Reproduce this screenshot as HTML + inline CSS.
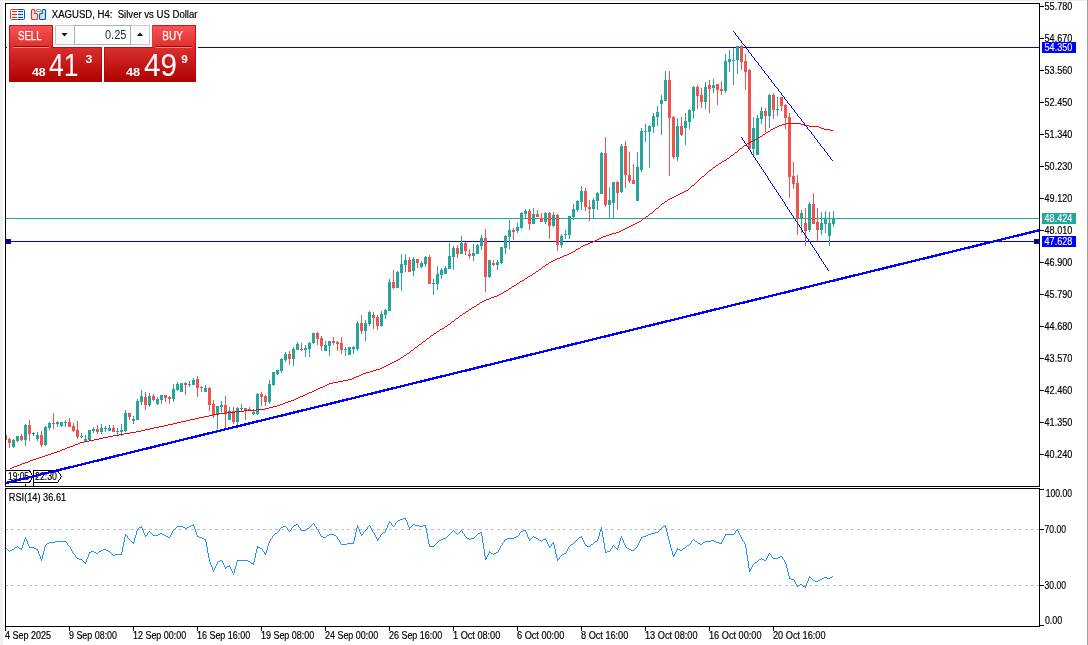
<!DOCTYPE html>
<html lang="en"><head><meta charset="utf-8"><title>XAGUSD, H4: Silver vs US Dollar</title>
<style>html,body{margin:0;padding:0;background:#fff;overflow:hidden}svg{display:block}text{font-family:"Liberation Sans",sans-serif;}.k{stroke:#000;stroke-width:0.18px}.w{stroke:#fff;stroke-width:0.12px}</style></head><body>
<svg width="1088" height="645" viewBox="0 0 1088 645">
<defs><linearGradient id="rg" x1="0" y1="25" x2="0" y2="82" gradientUnits="userSpaceOnUse"><stop offset="0" stop-color="#f95454"/><stop offset="0.38" stop-color="#dc3030"/><stop offset="1" stop-color="#ae0000"/></linearGradient><clipPath id="mc"><rect x="6" y="4" width="1033" height="482"/></clipPath></defs>
<rect x="0" y="0" width="1088" height="645" fill="#ffffff"/>
<g shape-rendering="crispEdges">
<rect x="0" y="0" width="1088" height="1" fill="#ececec"/>
<rect x="0" y="0" width="3" height="645" fill="#f0f0f0"/>
<rect x="1087" y="0" width="1" height="645" fill="#a0a0b4"/>
<g fill="#000">
<rect x="5" y="3" width="1035" height="1"/>
<rect x="5" y="3" width="1" height="484"/>
<rect x="1039" y="3" width="1" height="484"/>
<rect x="5" y="486" width="1035" height="1"/>
<rect x="5" y="488" width="1035" height="1"/>
<rect x="5" y="488" width="1" height="139"/>
<rect x="1039" y="488" width="1" height="139"/>
<rect x="5" y="626" width="1035" height="1"/>
</g>
</g>
<g clip-path="url(#mc)">
<g shape-rendering="crispEdges">
<rect x="6" y="47" width="1033" height="1" fill="#0000ff"/>
<rect x="6" y="218" width="1033" height="1" fill="#26a69a"/>
<rect x="6" y="241" width="1033" height="1" fill="#0000ff"/>
</g>
<g fill="#26a69a" shape-rendering="crispEdges">
<rect x="13" y="439" width="1" height="9"/>
<rect x="12" y="440" width="3" height="7"/>
<rect x="17" y="436" width="1" height="6"/>
<rect x="16" y="436" width="3" height="5"/>
<rect x="25" y="424" width="1" height="22"/>
<rect x="24" y="425" width="3" height="15"/>
<rect x="33" y="432" width="1" height="4"/>
<rect x="32" y="433" width="3" height="1"/>
<rect x="37" y="432" width="1" height="9"/>
<rect x="36" y="435" width="3" height="4"/>
<rect x="45" y="426" width="1" height="20"/>
<rect x="44" y="427" width="3" height="18"/>
<rect x="49" y="422" width="1" height="8"/>
<rect x="48" y="423" width="3" height="5"/>
<rect x="57" y="421" width="1" height="6"/>
<rect x="56" y="422" width="3" height="2"/>
<rect x="61" y="422" width="1" height="5"/>
<rect x="60" y="422" width="3" height="4"/>
<rect x="65" y="420" width="1" height="7"/>
<rect x="64" y="422" width="3" height="1"/>
<rect x="81" y="433" width="1" height="5"/>
<rect x="80" y="436" width="3" height="1"/>
<rect x="85" y="435" width="1" height="7"/>
<rect x="84" y="439" width="3" height="3"/>
<rect x="89" y="430" width="1" height="11"/>
<rect x="88" y="430" width="3" height="10"/>
<rect x="93" y="427" width="1" height="6"/>
<rect x="92" y="429" width="3" height="2"/>
<rect x="101" y="424" width="1" height="10"/>
<rect x="100" y="428" width="3" height="4"/>
<rect x="105" y="426" width="1" height="6"/>
<rect x="104" y="428" width="3" height="1"/>
<rect x="109" y="425" width="1" height="6"/>
<rect x="108" y="428" width="3" height="3"/>
<rect x="117" y="428" width="1" height="8"/>
<rect x="116" y="431" width="3" height="1"/>
<rect x="121" y="424" width="1" height="12"/>
<rect x="120" y="430" width="3" height="2"/>
<rect x="125" y="410" width="1" height="22"/>
<rect x="124" y="413" width="3" height="18"/>
<rect x="133" y="416" width="1" height="8"/>
<rect x="132" y="419" width="3" height="2"/>
<rect x="137" y="399" width="1" height="21"/>
<rect x="136" y="401" width="3" height="19"/>
<rect x="141" y="390" width="1" height="15"/>
<rect x="140" y="396" width="3" height="6"/>
<rect x="149" y="393" width="1" height="14"/>
<rect x="148" y="396" width="3" height="9"/>
<rect x="157" y="397" width="1" height="8"/>
<rect x="156" y="399" width="3" height="5"/>
<rect x="161" y="395" width="1" height="9"/>
<rect x="160" y="395" width="3" height="5"/>
<rect x="173" y="384" width="1" height="18"/>
<rect x="172" y="389" width="3" height="10"/>
<rect x="177" y="382" width="1" height="9"/>
<rect x="176" y="384" width="3" height="6"/>
<rect x="180" y="383" width="3" height="9"/>
<rect x="189" y="381" width="1" height="6"/>
<rect x="188" y="384" width="3" height="1"/>
<rect x="193" y="378" width="1" height="7"/>
<rect x="192" y="380" width="3" height="5"/>
<rect x="205" y="385" width="1" height="7"/>
<rect x="204" y="388" width="3" height="4"/>
<rect x="217" y="406" width="1" height="23"/>
<rect x="216" y="406" width="3" height="9"/>
<rect x="221" y="401" width="1" height="11"/>
<rect x="220" y="405" width="3" height="2"/>
<rect x="229" y="407" width="1" height="13"/>
<rect x="228" y="411" width="3" height="9"/>
<rect x="237" y="407" width="1" height="21"/>
<rect x="236" y="408" width="3" height="14"/>
<rect x="241" y="404" width="1" height="7"/>
<rect x="240" y="408" width="3" height="1"/>
<rect x="253" y="409" width="1" height="6"/>
<rect x="252" y="412" width="3" height="2"/>
<rect x="257" y="393" width="1" height="22"/>
<rect x="256" y="394" width="3" height="20"/>
<rect x="269" y="380" width="1" height="24"/>
<rect x="268" y="384" width="3" height="18"/>
<rect x="273" y="372" width="1" height="14"/>
<rect x="272" y="372" width="3" height="13"/>
<rect x="277" y="370" width="1" height="5"/>
<rect x="276" y="370" width="3" height="4"/>
<rect x="281" y="358" width="1" height="15"/>
<rect x="280" y="359" width="3" height="12"/>
<rect x="285" y="352" width="1" height="10"/>
<rect x="284" y="354" width="3" height="6"/>
<rect x="293" y="347" width="1" height="19"/>
<rect x="292" y="349" width="3" height="10"/>
<rect x="297" y="342" width="1" height="8"/>
<rect x="296" y="344" width="3" height="6"/>
<rect x="305" y="345" width="1" height="12"/>
<rect x="304" y="348" width="3" height="2"/>
<rect x="309" y="342" width="1" height="15"/>
<rect x="308" y="343" width="3" height="6"/>
<rect x="313" y="333" width="1" height="11"/>
<rect x="312" y="333" width="3" height="10"/>
<rect x="325" y="341" width="1" height="10"/>
<rect x="324" y="345" width="3" height="6"/>
<rect x="329" y="341" width="1" height="15"/>
<rect x="328" y="341" width="3" height="5"/>
<rect x="345" y="347" width="1" height="9"/>
<rect x="344" y="349" width="3" height="1"/>
<rect x="348" y="347" width="3" height="8"/>
<rect x="353" y="346" width="1" height="8"/>
<rect x="352" y="347" width="3" height="2"/>
<rect x="357" y="321" width="1" height="30"/>
<rect x="356" y="323" width="3" height="26"/>
<rect x="365" y="320" width="1" height="21"/>
<rect x="364" y="323" width="3" height="8"/>
<rect x="369" y="311" width="1" height="15"/>
<rect x="368" y="312" width="3" height="12"/>
<rect x="381" y="311" width="1" height="16"/>
<rect x="380" y="314" width="3" height="12"/>
<rect x="385" y="309" width="1" height="10"/>
<rect x="384" y="310" width="3" height="5"/>
<rect x="389" y="279" width="1" height="32"/>
<rect x="388" y="282" width="3" height="29"/>
<rect x="397" y="271" width="1" height="17"/>
<rect x="396" y="272" width="3" height="16"/>
<rect x="401" y="254" width="1" height="37"/>
<rect x="400" y="264" width="3" height="9"/>
<rect x="405" y="254" width="1" height="18"/>
<rect x="404" y="260" width="3" height="5"/>
<rect x="413" y="257" width="1" height="19"/>
<rect x="412" y="259" width="3" height="12"/>
<rect x="421" y="261" width="1" height="7"/>
<rect x="420" y="263" width="3" height="4"/>
<rect x="425" y="256" width="1" height="11"/>
<rect x="424" y="257" width="3" height="7"/>
<rect x="433" y="279" width="1" height="16"/>
<rect x="432" y="283" width="3" height="1"/>
<rect x="437" y="266" width="1" height="24"/>
<rect x="436" y="274" width="3" height="10"/>
<rect x="441" y="268" width="1" height="11"/>
<rect x="440" y="270" width="3" height="5"/>
<rect x="445" y="266" width="1" height="8"/>
<rect x="444" y="268" width="3" height="6"/>
<rect x="449" y="243" width="1" height="26"/>
<rect x="448" y="256" width="3" height="13"/>
<rect x="453" y="246" width="1" height="24"/>
<rect x="452" y="248" width="3" height="9"/>
<rect x="461" y="236" width="1" height="18"/>
<rect x="460" y="243" width="3" height="11"/>
<rect x="473" y="244" width="1" height="17"/>
<rect x="472" y="253" width="3" height="3"/>
<rect x="477" y="244" width="1" height="10"/>
<rect x="476" y="245" width="3" height="9"/>
<rect x="481" y="235" width="1" height="15"/>
<rect x="480" y="238" width="3" height="8"/>
<rect x="489" y="260" width="1" height="18"/>
<rect x="488" y="260" width="3" height="17"/>
<rect x="497" y="260" width="1" height="10"/>
<rect x="496" y="262" width="3" height="3"/>
<rect x="501" y="247" width="1" height="17"/>
<rect x="500" y="247" width="3" height="16"/>
<rect x="505" y="235" width="1" height="19"/>
<rect x="504" y="236" width="3" height="12"/>
<rect x="509" y="220" width="1" height="29"/>
<rect x="508" y="230" width="3" height="7"/>
<rect x="517" y="223" width="1" height="10"/>
<rect x="516" y="227" width="3" height="4"/>
<rect x="521" y="212" width="1" height="17"/>
<rect x="520" y="213" width="3" height="15"/>
<rect x="525" y="209" width="1" height="9"/>
<rect x="524" y="211" width="3" height="3"/>
<rect x="533" y="208" width="1" height="16"/>
<rect x="532" y="214" width="3" height="10"/>
<rect x="545" y="212" width="1" height="12"/>
<rect x="544" y="213" width="3" height="9"/>
<rect x="553" y="212" width="1" height="15"/>
<rect x="552" y="215" width="3" height="11"/>
<rect x="561" y="234" width="1" height="14"/>
<rect x="560" y="236" width="3" height="9"/>
<rect x="565" y="230" width="1" height="9"/>
<rect x="564" y="234" width="3" height="1"/>
<rect x="569" y="216" width="1" height="23"/>
<rect x="568" y="216" width="3" height="19"/>
<rect x="573" y="204" width="1" height="16"/>
<rect x="572" y="209" width="3" height="8"/>
<rect x="577" y="200" width="1" height="12"/>
<rect x="576" y="201" width="3" height="9"/>
<rect x="581" y="186" width="1" height="24"/>
<rect x="580" y="191" width="3" height="11"/>
<rect x="593" y="198" width="1" height="20"/>
<rect x="592" y="200" width="3" height="9"/>
<rect x="597" y="192" width="1" height="18"/>
<rect x="596" y="193" width="3" height="8"/>
<rect x="601" y="152" width="1" height="42"/>
<rect x="600" y="153" width="3" height="41"/>
<rect x="609" y="187" width="1" height="31"/>
<rect x="608" y="200" width="3" height="5"/>
<rect x="613" y="182" width="1" height="36"/>
<rect x="612" y="182" width="3" height="21"/>
<rect x="621" y="144" width="1" height="49"/>
<rect x="620" y="146" width="3" height="46"/>
<rect x="637" y="152" width="1" height="49"/>
<rect x="636" y="167" width="3" height="34"/>
<rect x="641" y="128" width="1" height="44"/>
<rect x="640" y="131" width="3" height="39"/>
<rect x="645" y="124" width="1" height="18"/>
<rect x="644" y="131" width="3" height="1"/>
<rect x="649" y="125" width="1" height="43"/>
<rect x="648" y="126" width="3" height="6"/>
<rect x="653" y="113" width="1" height="20"/>
<rect x="652" y="116" width="3" height="11"/>
<rect x="657" y="106" width="1" height="20"/>
<rect x="656" y="112" width="3" height="5"/>
<rect x="661" y="95" width="1" height="40"/>
<rect x="660" y="100" width="3" height="4"/>
<rect x="665" y="71" width="1" height="30"/>
<rect x="664" y="80" width="3" height="21"/>
<rect x="677" y="118" width="1" height="43"/>
<rect x="676" y="126" width="3" height="31"/>
<rect x="685" y="113" width="1" height="32"/>
<rect x="684" y="121" width="3" height="7"/>
<rect x="689" y="109" width="1" height="20"/>
<rect x="688" y="110" width="3" height="12"/>
<rect x="693" y="86" width="1" height="33"/>
<rect x="692" y="87" width="3" height="24"/>
<rect x="705" y="82" width="1" height="27"/>
<rect x="704" y="87" width="3" height="15"/>
<rect x="713" y="79" width="1" height="14"/>
<rect x="712" y="85" width="3" height="3"/>
<rect x="725" y="54" width="1" height="39"/>
<rect x="724" y="61" width="3" height="30"/>
<rect x="729" y="50" width="1" height="22"/>
<rect x="728" y="59" width="3" height="3"/>
<rect x="733" y="48" width="1" height="37"/>
<rect x="732" y="60" width="3" height="1"/>
<rect x="737" y="46" width="1" height="28"/>
<rect x="736" y="46" width="3" height="14"/>
<rect x="753" y="117" width="1" height="38"/>
<rect x="752" y="128" width="3" height="21"/>
<rect x="757" y="115" width="1" height="40"/>
<rect x="756" y="118" width="3" height="37"/>
<rect x="761" y="107" width="1" height="17"/>
<rect x="760" y="111" width="3" height="8"/>
<rect x="769" y="94" width="1" height="34"/>
<rect x="768" y="95" width="3" height="21"/>
<rect x="777" y="97" width="1" height="19"/>
<rect x="776" y="109" width="3" height="1"/>
<rect x="801" y="210" width="1" height="23"/>
<rect x="800" y="213" width="3" height="6"/>
<rect x="809" y="202" width="1" height="30"/>
<rect x="808" y="204" width="3" height="26"/>
<rect x="821" y="212" width="1" height="23"/>
<rect x="820" y="223" width="3" height="7"/>
<rect x="825" y="211" width="1" height="22"/>
<rect x="824" y="219" width="3" height="5"/>
<rect x="829" y="212" width="1" height="34"/>
<rect x="828" y="223" width="3" height="13"/>
<rect x="833" y="211" width="1" height="16"/>
<rect x="832" y="218" width="3" height="6"/>
</g>
<g fill="#ef5350" shape-rendering="crispEdges">
<rect x="4" y="435" width="3" height="5"/>
<rect x="9" y="438" width="1" height="10"/>
<rect x="8" y="439" width="3" height="4"/>
<rect x="21" y="434" width="1" height="7"/>
<rect x="20" y="436" width="3" height="4"/>
<rect x="29" y="420" width="1" height="21"/>
<rect x="28" y="425" width="3" height="9"/>
<rect x="41" y="431" width="1" height="16"/>
<rect x="40" y="435" width="3" height="10"/>
<rect x="53" y="413" width="1" height="16"/>
<rect x="52" y="423" width="3" height="1"/>
<rect x="69" y="418" width="1" height="9"/>
<rect x="68" y="422" width="3" height="5"/>
<rect x="73" y="423" width="1" height="9"/>
<rect x="72" y="426" width="3" height="5"/>
<rect x="77" y="421" width="1" height="18"/>
<rect x="76" y="430" width="3" height="7"/>
<rect x="97" y="425" width="1" height="9"/>
<rect x="96" y="429" width="3" height="3"/>
<rect x="113" y="425" width="1" height="7"/>
<rect x="112" y="428" width="3" height="4"/>
<rect x="129" y="413" width="1" height="7"/>
<rect x="128" y="413" width="3" height="4"/>
<rect x="145" y="392" width="1" height="18"/>
<rect x="144" y="397" width="3" height="8"/>
<rect x="153" y="394" width="1" height="7"/>
<rect x="152" y="396" width="3" height="4"/>
<rect x="165" y="395" width="1" height="7"/>
<rect x="164" y="395" width="3" height="3"/>
<rect x="169" y="396" width="1" height="8"/>
<rect x="168" y="397" width="3" height="2"/>
<rect x="185" y="382" width="1" height="13"/>
<rect x="184" y="383" width="3" height="2"/>
<rect x="197" y="376" width="1" height="21"/>
<rect x="196" y="379" width="3" height="9"/>
<rect x="201" y="386" width="1" height="6"/>
<rect x="200" y="387" width="3" height="1"/>
<rect x="209" y="387" width="1" height="24"/>
<rect x="208" y="388" width="3" height="17"/>
<rect x="213" y="400" width="1" height="18"/>
<rect x="212" y="404" width="3" height="11"/>
<rect x="225" y="396" width="1" height="32"/>
<rect x="224" y="405" width="3" height="9"/>
<rect x="233" y="407" width="1" height="17"/>
<rect x="232" y="411" width="3" height="11"/>
<rect x="245" y="408" width="1" height="12"/>
<rect x="244" y="408" width="3" height="2"/>
<rect x="249" y="407" width="1" height="4"/>
<rect x="248" y="409" width="3" height="1"/>
<rect x="261" y="392" width="1" height="14"/>
<rect x="260" y="394" width="3" height="3"/>
<rect x="265" y="395" width="1" height="11"/>
<rect x="264" y="396" width="3" height="6"/>
<rect x="289" y="351" width="1" height="14"/>
<rect x="288" y="354" width="3" height="5"/>
<rect x="301" y="343" width="1" height="8"/>
<rect x="300" y="349" width="3" height="1"/>
<rect x="317" y="332" width="1" height="13"/>
<rect x="316" y="333" width="3" height="6"/>
<rect x="321" y="336" width="1" height="15"/>
<rect x="320" y="338" width="3" height="8"/>
<rect x="333" y="337" width="1" height="8"/>
<rect x="332" y="341" width="3" height="2"/>
<rect x="337" y="341" width="1" height="10"/>
<rect x="336" y="342" width="3" height="2"/>
<rect x="341" y="337" width="1" height="17"/>
<rect x="340" y="343" width="3" height="7"/>
<rect x="361" y="315" width="1" height="19"/>
<rect x="360" y="323" width="3" height="8"/>
<rect x="373" y="312" width="1" height="17"/>
<rect x="372" y="315" width="3" height="3"/>
<rect x="377" y="315" width="1" height="15"/>
<rect x="376" y="317" width="3" height="9"/>
<rect x="393" y="270" width="1" height="19"/>
<rect x="392" y="282" width="3" height="6"/>
<rect x="409" y="257" width="1" height="15"/>
<rect x="408" y="260" width="3" height="12"/>
<rect x="417" y="259" width="1" height="9"/>
<rect x="416" y="259" width="3" height="4"/>
<rect x="429" y="255" width="1" height="29"/>
<rect x="428" y="257" width="3" height="27"/>
<rect x="457" y="245" width="1" height="13"/>
<rect x="456" y="248" width="3" height="6"/>
<rect x="465" y="242" width="1" height="13"/>
<rect x="464" y="243" width="3" height="8"/>
<rect x="469" y="249" width="1" height="10"/>
<rect x="468" y="254" width="3" height="2"/>
<rect x="485" y="229" width="1" height="63"/>
<rect x="484" y="238" width="3" height="39"/>
<rect x="493" y="260" width="1" height="6"/>
<rect x="492" y="263" width="3" height="2"/>
<rect x="513" y="228" width="1" height="12"/>
<rect x="512" y="230" width="3" height="2"/>
<rect x="529" y="209" width="1" height="21"/>
<rect x="528" y="211" width="3" height="13"/>
<rect x="537" y="210" width="1" height="7"/>
<rect x="536" y="214" width="3" height="3"/>
<rect x="541" y="213" width="1" height="9"/>
<rect x="540" y="218" width="3" height="4"/>
<rect x="549" y="212" width="1" height="27"/>
<rect x="548" y="213" width="3" height="13"/>
<rect x="557" y="214" width="1" height="37"/>
<rect x="556" y="215" width="3" height="30"/>
<rect x="585" y="188" width="1" height="23"/>
<rect x="584" y="191" width="3" height="16"/>
<rect x="589" y="200" width="1" height="21"/>
<rect x="588" y="207" width="3" height="2"/>
<rect x="605" y="137" width="1" height="70"/>
<rect x="604" y="153" width="3" height="52"/>
<rect x="617" y="181" width="1" height="29"/>
<rect x="616" y="182" width="3" height="11"/>
<rect x="625" y="141" width="1" height="47"/>
<rect x="624" y="146" width="3" height="29"/>
<rect x="629" y="152" width="1" height="31"/>
<rect x="628" y="175" width="3" height="6"/>
<rect x="633" y="164" width="1" height="20"/>
<rect x="632" y="180" width="3" height="4"/>
<rect x="669" y="71" width="1" height="105"/>
<rect x="668" y="80" width="3" height="38"/>
<rect x="673" y="116" width="1" height="43"/>
<rect x="672" y="117" width="3" height="40"/>
<rect x="681" y="117" width="1" height="19"/>
<rect x="680" y="126" width="3" height="9"/>
<rect x="697" y="85" width="1" height="24"/>
<rect x="696" y="87" width="3" height="9"/>
<rect x="701" y="88" width="1" height="20"/>
<rect x="700" y="95" width="3" height="7"/>
<rect x="709" y="80" width="1" height="33"/>
<rect x="708" y="85" width="3" height="4"/>
<rect x="717" y="84" width="1" height="21"/>
<rect x="716" y="84" width="3" height="6"/>
<rect x="721" y="81" width="1" height="14"/>
<rect x="720" y="89" width="3" height="2"/>
<rect x="741" y="45" width="1" height="25"/>
<rect x="740" y="46" width="3" height="16"/>
<rect x="745" y="54" width="1" height="36"/>
<rect x="744" y="61" width="3" height="11"/>
<rect x="749" y="69" width="1" height="80"/>
<rect x="748" y="70" width="3" height="79"/>
<rect x="765" y="108" width="1" height="24"/>
<rect x="764" y="111" width="3" height="5"/>
<rect x="773" y="93" width="1" height="26"/>
<rect x="772" y="95" width="3" height="15"/>
<rect x="781" y="97" width="1" height="14"/>
<rect x="780" y="97" width="3" height="9"/>
<rect x="785" y="104" width="1" height="25"/>
<rect x="784" y="105" width="3" height="13"/>
<rect x="789" y="113" width="1" height="85"/>
<rect x="788" y="117" width="3" height="60"/>
<rect x="793" y="162" width="1" height="27"/>
<rect x="792" y="176" width="3" height="8"/>
<rect x="797" y="175" width="1" height="60"/>
<rect x="796" y="183" width="3" height="36"/>
<rect x="805" y="208" width="1" height="38"/>
<rect x="804" y="223" width="3" height="8"/>
<rect x="813" y="193" width="1" height="31"/>
<rect x="812" y="204" width="3" height="20"/>
<rect x="817" y="208" width="1" height="33"/>
<rect x="816" y="222" width="3" height="8"/>
</g>
<path fill="none" stroke="#ff0000" stroke-width="1" shape-rendering="crispEdges" d="M10 468.5h2M12 467.5h2M14 466.5h3M17 465.5h3M20 464.5h2M22 463.5h3M25 462.5h3M28 461.5h2M30 460.5h3M33 459.5h3M36 458.5h3M39 457.5h3M42 456.5h3M45 455.5h3M48 454.5h3M51 453.5h3M54 452.5h3M57 451.5h3M60 450.5h2M62 449.5h3M65 448.5h2M67 447.5h3M70 446.5h3M73 445.5h2M75 444.5h3M78 443.5h2M80 442.5h4M84 441.5h5M89 440.5h5M94 439.5h5M99 438.5h4M103 437.5h5M108 436.5h5M113 435.5h6M119 434.5h5M124 433.5h6M130 432.5h6M136 431.5h5M141 430.5h4M145 429.5h5M150 428.5h4M154 427.5h5M159 426.5h5M164 425.5h4M168 424.5h5M173 423.5h4M177 422.5h4M181 421.5h5M186 420.5h4M190 419.5h5M195 418.5h4M199 417.5h5M204 416.5h5M209 415.5h4M213 414.5h6M219 413.5h8M227 412.5h8M235 411.5h9M244 410.5h12M256 409.5h9M265 408.5h4M269 407.5h4M273 406.5h4M277 405.5h3M280 404.5h3M283 403.5h2M285 402.5h3M288 401.5h3M291 400.5h3M294 399.5h2M296 398.5h2M298 397.5h2M300 396.5h3M303 395.5h2M305 394.5h2M307 393.5h2M309 392.5h3M312 391.5h2M314 390.5h2M316 389.5h2M318 388.5h2M320 387.5h3M323 386.5h2M325 385.5h2M327 384.5h2M329 383.5h4M333 382.5h5M338 381.5h5M343 380.5h5M348 379.5h4M352 378.5h2M354 377.5h2M356 376.5h3M359 375.5h2M361 374.5h2M363 373.5h3M366 372.5h4M370 371.5h3M373 370.5h3M376 369.5h4M380 368.5h2M382 367.5h2M384 366.5h2M386 365.5h2M388 364.5h2M390 363.5h2M392 362.5h2M394 361.5h2M396 360.5h2M398 359.5h2M400 358.5h1M401 357.5h2M403 356.5h1M404 355.5h2M406 354.5h1M407 353.5h2M409 352.5h1M410 351.5h1M411 350.5h2M413 349.5h1M414 348.5h1M415 347.5h2M417 346.5h1M418 345.5h1M419 344.5h2M421 343.5h1M422 342.5h1M423 341.5h2M425 340.5h1M426 339.5h1M427 338.5h2M429 337.5h1M430 336.5h1M431 335.5h2M433 334.5h1M434 333.5h2M436 332.5h1M437 331.5h2M439 330.5h1M440 329.5h2M442 328.5h2M444 327.5h1M445 326.5h2M447 325.5h1M448 324.5h2M450 323.5h1M451 322.5h1M452 321.5h2M454 320.5h1M455 319.5h1M456 318.5h2M458 317.5h1M459 316.5h1M460 315.5h2M462 314.5h1M463 313.5h2M465 312.5h1M466 311.5h2M468 310.5h1M469 309.5h2M471 308.5h1M472 307.5h2M474 306.5h2M476 305.5h1M477 304.5h2M479 303.5h1M480 302.5h2M482 301.5h2M484 300.5h2M486 299.5h3M489 298.5h2M491 297.5h3M494 296.5h3M497 295.5h2M499 294.5h2M501 293.5h2M503 292.5h1M504 291.5h2M506 290.5h2M508 289.5h1M509 288.5h2M511 287.5h1M512 286.5h2M514 285.5h2M516 284.5h1M517 283.5h2M519 282.5h1M520 281.5h2M522 280.5h2M524 279.5h1M525 278.5h2M527 277.5h1M528 276.5h2M530 275.5h2M532 274.5h1M533 273.5h2M535 272.5h1M536 271.5h2M538 270.5h1M539 269.5h2M541 268.5h1M542 267.5h1M543 266.5h2M545 265.5h1M546 264.5h2M548 263.5h1M549 262.5h2M551 261.5h2M553 260.5h2M555 259.5h2M557 258.5h3M560 257.5h2M562 256.5h2M564 255.5h3M567 254.5h2M569 253.5h2M571 252.5h2M573 251.5h2M575 250.5h1M576 249.5h2M578 248.5h2M580 247.5h1M581 246.5h2M583 245.5h2M585 244.5h3M588 243.5h2M590 242.5h3M593 241.5h2M595 240.5h2M597 239.5h2M599 238.5h2M601 237.5h2M603 236.5h3M606 235.5h3M609 234.5h3M612 233.5h4M616 232.5h3M619 231.5h2M621 230.5h2M623 229.5h2M625 228.5h2M627 227.5h2M629 226.5h2M631 225.5h2M633 224.5h2M635 223.5h2M637 222.5h2M639 221.5h2M641 220.5h1M642 219.5h1M643 218.5h2M645 217.5h1M646 216.5h2M648 215.5h1M649 214.5h1M650 213.5h2M652 212.5h1M653 211.5h1M654 210.5h1M655 209.5h1M656 208.5h2M658 207.5h1M659 206.5h1M660 205.5h1M661 204.5h1M662 203.5h2M664 202.5h1M665 201.5h2M667 200.5h1M668 199.5h2M670 198.5h2M672 197.5h2M674 196.5h2M676 195.5h2M678 194.5h2M680 193.5h2M682 192.5h2M684 191.5h2M686 190.5h2M688 189.5h1M689 188.5h1M690 187.5h1M691 186.5h1M692 185.5h2M694 184.5h1M695 183.5h1M696 182.5h1M697 181.5h1M698 180.5h1M699 179.5h1M700 178.5h1M701 177.5h1M702 176.5h2M704 175.5h1M705 174.5h1M706 173.5h1M707 172.5h1M708 171.5h1M709 170.5h2M711 169.5h1M712 168.5h1M713 167.5h2M715 166.5h1M716 165.5h2M718 164.5h1M719 163.5h2M721 162.5h1M722 161.5h2M724 160.5h2M726 159.5h1M727 158.5h2M729 157.5h1M730 156.5h1M731 155.5h2M733 154.5h1M734 153.5h1M735 152.5h2M737 151.5h1M738 150.5h1M739 149.5h1M740 148.5h2M742 147.5h1M743 146.5h1M744 145.5h2M746 144.5h1M747 143.5h2M749 142.5h2M751 141.5h2M753 140.5h2M755 139.5h2M757 138.5h1M758 137.5h2M760 136.5h2M762 135.5h1M763 134.5h2M765 133.5h1M766 132.5h2M768 131.5h2M770 130.5h1M771 129.5h2M773 128.5h2M775 127.5h2M777 126.5h2M779 125.5h3M782 124.5h4M786 123.5h15M801 124.5h3M804 125.5h5M809 126.5h10M819 127.5h2M821 128.5h3M824 129.5h6M830 130.5h3"/>
<path fill="none" stroke="#0000ff" stroke-width="1" shape-rendering="crispEdges" d="M733.5 31v1M734.5 32v1M735.5 33v2M736.5 35v1M737.5 36v1M738.5 37v2M739.5 39v1M740.5 40v1M741.5 41v2M742.5 43v1M743.5 44v1M744.5 45v1M745.5 46v2M746.5 48v1M747.5 49v1M748.5 50v2M749.5 52v1M750.5 53v1M751.5 54v2M752.5 56v1M753.5 57v1M754.5 58v2M755.5 60v1M756.5 61v1M757.5 62v1M758.5 63v2M759.5 65v1M760.5 66v1M761.5 67v2M762.5 69v1M763.5 70v1M764.5 71v2M765.5 73v1M766.5 74v1M767.5 75v1M768.5 76v2M769.5 78v1M770.5 79v1M771.5 80v2M772.5 82v1M773.5 83v1M774.5 84v2M775.5 86v1M776.5 87v1M777.5 88v1M778.5 89v2M779.5 91v1M780.5 92v1M781.5 93v2M782.5 95v1M783.5 96v1M784.5 97v2M785.5 99v1M786.5 100v1M787.5 101v2M788.5 103v1M789.5 104v1M790.5 105v1M791.5 106v2M792.5 108v1M793.5 109v1M794.5 110v2M795.5 112v1M796.5 113v1M797.5 114v2M798.5 116v1M799.5 117v1M800.5 118v1M801.5 119v2M802.5 121v1M803.5 122v1M804.5 123v2M805.5 125v1M806.5 126v1M807.5 127v2M808.5 129v1M809.5 130v1M810.5 131v1M811.5 132v2M812.5 134v1M813.5 135v1M814.5 136v2M815.5 138v1M816.5 139v1M817.5 140v2M818.5 142v1M819.5 143v1M820.5 144v2M821.5 146v1M822.5 147v1M823.5 148v1M824.5 149v2M825.5 151v1M826.5 152v1M827.5 153v2M828.5 155v1M829.5 156v1M830.5 157v2M831.5 159v1M832.5 160v1"/>
<path fill="none" stroke="#0000ff" stroke-width="1" shape-rendering="crispEdges" d="M741.5 137v1M742.5 138v2M743.5 140v1M744.5 141v2M745.5 143v1M746.5 144v2M747.5 146v1M748.5 147v2M749.5 149v1M750.5 150v2M751.5 152v2M752.5 154v1M753.5 155v2M754.5 157v1M755.5 158v2M756.5 160v1M757.5 161v2M758.5 163v1M759.5 164v2M760.5 166v1M761.5 167v2M762.5 169v1M763.5 170v2M764.5 172v1M765.5 173v2M766.5 175v1M767.5 176v2M768.5 178v2M769.5 180v1M770.5 181v2M771.5 183v1M772.5 184v2M773.5 186v1M774.5 187v2M775.5 189v1M776.5 190v2M777.5 192v1M778.5 193v2M779.5 195v1M780.5 196v2M781.5 198v1M782.5 199v2M783.5 201v1M784.5 202v2M785.5 204v2M786.5 206v1M787.5 207v2M788.5 209v1M789.5 210v2M790.5 212v1M791.5 213v2M792.5 215v1M793.5 216v2M794.5 218v1M795.5 219v2M796.5 221v1M797.5 222v2M798.5 224v1M799.5 225v2M800.5 227v1M801.5 228v2M802.5 230v2M803.5 232v1M804.5 233v2M805.5 235v1M806.5 236v2M807.5 238v1M808.5 239v2M809.5 241v1M810.5 242v2M811.5 244v1M812.5 245v2M813.5 247v1M814.5 248v2M815.5 250v1M816.5 251v2M817.5 253v1M818.5 254v2M819.5 256v2M820.5 258v1M821.5 259v2M822.5 261v1M823.5 262v2M824.5 264v1M825.5 265v2M826.5 267v1M827.5 268v2M828.5 270v1"/>
<g shape-rendering="crispEdges" fill="#fff" stroke="#000" stroke-width="1">
<path d="M5.5 470.5H29.5L33 476.5L29.5 482.5H5.5Z"/>
<path d="M33.5 470.5H57.5L61.5 476.5L57.5 482.5H33.5Z"/>
</g>
<g shape-rendering="crispEdges" fill="#000"><rect x="33" y="482" width="1" height="4"/><rect x="25" y="484" width="1" height="2"/></g>
<text class="k" x="8" y="480" font-size="10" fill="#000" textLength="21" lengthAdjust="spacingAndGlyphs">19:05</text>
<text class="k" x="35" y="480" font-size="10" fill="#000" textLength="22" lengthAdjust="spacingAndGlyphs">22:30</text>
<line x1="5" y1="483.2" x2="1039.5" y2="230.2" stroke="#0000ff" stroke-width="2.3" shape-rendering="crispEdges"/>
<g shape-rendering="crispEdges">
<rect x="6" y="239" width="5" height="5" fill="#0000ff"/><rect x="7" y="240" width="3" height="3" fill="#000"/>
<rect x="1034" y="239" width="5" height="5" fill="#0000ff"/><rect x="1035" y="240" width="3" height="3" fill="#000"/>
</g>
</g>
<g shape-rendering="crispEdges" fill="#000">
<rect x="1040" y="6" width="4" height="1"/>
<rect x="1040" y="38" width="4" height="1"/>
<rect x="1040" y="70" width="4" height="1"/>
<rect x="1040" y="102" width="4" height="1"/>
<rect x="1040" y="134" width="4" height="1"/>
<rect x="1040" y="166" width="4" height="1"/>
<rect x="1040" y="198" width="4" height="1"/>
<rect x="1040" y="230" width="4" height="1"/>
<rect x="1040" y="262" width="4" height="1"/>
<rect x="1040" y="294" width="4" height="1"/>
<rect x="1040" y="326" width="4" height="1"/>
<rect x="1040" y="358" width="4" height="1"/>
<rect x="1040" y="390" width="4" height="1"/>
<rect x="1040" y="422" width="4" height="1"/>
<rect x="1040" y="454" width="4" height="1"/>
</g>
<g class="k" font-size="10" fill="#000">
<text x="1044.6" y="10" textLength="27.6" lengthAdjust="spacingAndGlyphs">55.780</text>
<text x="1044.6" y="42" textLength="27.6" lengthAdjust="spacingAndGlyphs">54.670</text>
<text x="1044.6" y="74" textLength="27.6" lengthAdjust="spacingAndGlyphs">53.560</text>
<text x="1044.6" y="106" textLength="27.6" lengthAdjust="spacingAndGlyphs">52.450</text>
<text x="1044.6" y="138" textLength="27.6" lengthAdjust="spacingAndGlyphs">51.340</text>
<text x="1044.6" y="170" textLength="27.6" lengthAdjust="spacingAndGlyphs">50.230</text>
<text x="1044.6" y="202" textLength="27.6" lengthAdjust="spacingAndGlyphs">49.120</text>
<text x="1044.6" y="234" textLength="27.6" lengthAdjust="spacingAndGlyphs">48.010</text>
<text x="1044.6" y="266" textLength="27.6" lengthAdjust="spacingAndGlyphs">46.900</text>
<text x="1044.6" y="298" textLength="27.6" lengthAdjust="spacingAndGlyphs">45.790</text>
<text x="1044.6" y="330" textLength="27.6" lengthAdjust="spacingAndGlyphs">44.680</text>
<text x="1044.6" y="362" textLength="27.6" lengthAdjust="spacingAndGlyphs">43.570</text>
<text x="1044.6" y="394" textLength="27.6" lengthAdjust="spacingAndGlyphs">42.460</text>
<text x="1044.6" y="426" textLength="27.6" lengthAdjust="spacingAndGlyphs">41.350</text>
<text x="1044.6" y="458" textLength="27.6" lengthAdjust="spacingAndGlyphs">40.240</text>
</g>
<rect x="1042" y="42" width="34" height="11" fill="#0000ff" shape-rendering="crispEdges"/>
<text x="1044.6" y="51" class="w" font-size="10" fill="#fff" textLength="27.6" lengthAdjust="spacingAndGlyphs">54.350</text>
<rect x="1042" y="213" width="34" height="11" fill="#26a69a" shape-rendering="crispEdges"/>
<text x="1044.6" y="222" class="w" font-size="10" fill="#fff" textLength="27.6" lengthAdjust="spacingAndGlyphs">48.424</text>
<rect x="1042" y="236" width="34" height="11" fill="#0000ff" shape-rendering="crispEdges"/>
<text x="1044.6" y="245" class="w" font-size="10" fill="#fff" textLength="27.6" lengthAdjust="spacingAndGlyphs">47.628</text>
<g shape-rendering="crispEdges" stroke="#c0c0c0" stroke-width="1" stroke-dasharray="3 3" stroke-dashoffset="1" fill="none">
<line x1="6" y1="529.5" x2="1039" y2="529.5"/><line x1="6" y1="585.5" x2="1039" y2="585.5"/>
</g>
<path fill="none" stroke="#1e90ff" stroke-width="1" shape-rendering="crispEdges" d="M6.5 548v1M7.5 549v1M8.5 550v1M9.5 551v1M10.5 550v1M11.5 550v1M12.5 549v1M13.5 549v1M14.5 548v1M15.5 547v1M16.5 547v1M17.5 546v1M18.5 547v1M19.5 548v1M20.5 548v1M21.5 548v2M22.5 545v3M23.5 542v3M24.5 539v3M25.5 537v2M26.5 539v2M27.5 541v3M28.5 544v2M29.5 546v2M30.5 547v1M31.5 547v1M32.5 547v1M33.5 547v1M34.5 548v1M35.5 548v1M36.5 549v1M37.5 549v2M38.5 551v3M39.5 554v2M40.5 556v3M41.5 559v2M42.5 555v4M43.5 551v4M44.5 547v4M45.5 545v2M46.5 544v1M47.5 543v1M48.5 543v1M49.5 542v1M50.5 542v1M51.5 542v1M52.5 542v1M53.5 542v1M54.5 542v1M55.5 541v1M56.5 541v1M57.5 541v1M58.5 541v1M59.5 541v1M60.5 541v1M61.5 541v1M62.5 541v1M63.5 541v1M64.5 541v1M65.5 541v1M66.5 542v1M67.5 543v2M68.5 545v1M69.5 546v1M70.5 547v2M71.5 549v2M72.5 551v2M73.5 553v1M74.5 554v1M75.5 555v2M76.5 557v1M77.5 558v1M78.5 558v1M79.5 559v1M80.5 559v1M81.5 559v1M82.5 560v1M83.5 561v1M84.5 562v1M85.5 562v2M86.5 559v3M87.5 557v2M88.5 554v3M89.5 552v2M90.5 552v1M91.5 551v1M92.5 551v1M93.5 551v1M94.5 552v1M95.5 552v1M96.5 553v1M97.5 553v1M98.5 552v1M99.5 551v1M100.5 551v1M101.5 550v1M102.5 550v1M103.5 549v1M104.5 549v1M105.5 549v1M106.5 550v1M107.5 550v1M108.5 551v1M109.5 551v1M110.5 552v1M111.5 553v1M112.5 554v1M113.5 555v1M114.5 555v1M115.5 554v1M116.5 554v1M117.5 554v1M118.5 554v1M119.5 554v1M120.5 554v1M121.5 552v3M122.5 547v5M123.5 542v5M124.5 537v5M125.5 534v3M126.5 535v1M127.5 536v2M128.5 538v1M129.5 539v1M130.5 540v1M131.5 541v1M132.5 542v1M133.5 542v2M134.5 538v4M135.5 535v3M136.5 531v4M137.5 529v2M138.5 528v1M139.5 527v1M140.5 527v1M141.5 526v2M142.5 528v2M143.5 530v3M144.5 533v2M145.5 535v2M146.5 535v1M147.5 533v2M148.5 532v1M149.5 531v1M150.5 532v1M151.5 533v1M152.5 534v1M153.5 535v1M154.5 535v1M155.5 535v1M156.5 535v1M157.5 535v1M158.5 534v1M159.5 534v1M160.5 533v1M161.5 533v1M162.5 534v1M163.5 534v1M164.5 535v1M165.5 535v1M166.5 536v1M167.5 536v1M168.5 537v1M169.5 537v1M170.5 535v2M171.5 533v2M172.5 531v2M173.5 530v1M174.5 529v1M175.5 528v1M176.5 527v1M177.5 526v1M178.5 526v1M179.5 526v1M180.5 526v1M181.5 526v1M182.5 526v1M183.5 527v1M184.5 527v1M185.5 528v1M186.5 528v1M187.5 527v1M188.5 527v1M189.5 526v1M190.5 526v1M191.5 525v1M192.5 525v1M193.5 524v2M194.5 526v3M195.5 529v3M196.5 532v3M197.5 535v2M198.5 536v1M199.5 537v1M200.5 537v1M201.5 537v1M202.5 538v1M203.5 538v1M204.5 539v1M205.5 539v3M206.5 542v5M207.5 547v6M208.5 553v5M209.5 558v4M210.5 562v3M211.5 565v2M212.5 567v3M213.5 570v2M214.5 568v2M215.5 566v2M216.5 564v2M217.5 562v2M218.5 561v1M219.5 561v1M220.5 560v1M221.5 560v1M222.5 561v2M223.5 563v2M224.5 565v2M225.5 567v2M226.5 567v1M227.5 566v1M228.5 566v1M229.5 565v2M230.5 567v2M231.5 569v2M232.5 571v2M233.5 573v2M234.5 569v4M235.5 566v3M236.5 562v4M237.5 560v2M238.5 560v1M239.5 560v1M240.5 560v1M241.5 560v1M242.5 560v1M243.5 560v1M244.5 560v1M245.5 560v1M246.5 560v1M247.5 560v1M248.5 561v1M249.5 561v1M250.5 562v1M251.5 563v1M252.5 563v1M253.5 562v3M254.5 558v4M255.5 553v5M256.5 549v4M257.5 546v3M258.5 547v1M259.5 547v1M260.5 548v1M261.5 548v1M262.5 549v2M263.5 551v1M264.5 552v2M265.5 553v2M266.5 550v3M267.5 546v4M268.5 543v3M269.5 541v2M270.5 539v2M271.5 538v1M272.5 536v2M273.5 535v1M274.5 534v1M275.5 533v1M276.5 533v1M277.5 532v1M278.5 531v1M279.5 529v2M280.5 528v1M281.5 527v1M282.5 527v1M283.5 526v1M284.5 526v1M285.5 526v1M286.5 527v1M287.5 528v2M288.5 530v1M289.5 531v1M290.5 530v1M291.5 528v2M292.5 527v1M293.5 526v1M294.5 525v1M295.5 525v1M296.5 524v1M297.5 524v1M298.5 525v2M299.5 527v1M300.5 528v2M301.5 530v1M302.5 530v1M303.5 530v1M304.5 530v1M305.5 530v1M306.5 529v1M307.5 528v1M308.5 528v1M309.5 527v1M310.5 526v1M311.5 525v1M312.5 524v1M313.5 523v1M314.5 524v2M315.5 526v1M316.5 527v2M317.5 529v1M318.5 530v2M319.5 532v2M320.5 534v2M321.5 536v1M322.5 536v1M323.5 537v1M324.5 537v1M325.5 537v1M326.5 536v1M327.5 535v1M328.5 535v1M329.5 534v1M330.5 534v1M331.5 534v1M332.5 534v1M333.5 534v1M334.5 535v1M335.5 535v1M336.5 536v1M337.5 537v2M338.5 539v1M339.5 540v2M340.5 542v2M341.5 544v1M342.5 544v1M343.5 544v1M344.5 544v1M345.5 544v1M346.5 544v1M347.5 543v1M348.5 543v1M349.5 543v1M350.5 543v1M351.5 543v1M352.5 543v1M353.5 541v3M354.5 537v4M355.5 532v5M356.5 528v4M357.5 525v3M358.5 527v2M359.5 529v3M360.5 532v2M361.5 534v2M362.5 534v1M363.5 532v2M364.5 531v1M365.5 530v1M366.5 529v1M367.5 527v2M368.5 526v1M369.5 525v1M370.5 526v2M371.5 528v2M372.5 530v2M373.5 532v1M374.5 533v2M375.5 535v2M376.5 537v2M377.5 539v2M378.5 538v2M379.5 537v1M380.5 535v2M381.5 534v1M382.5 533v1M383.5 532v1M384.5 532v1M385.5 530v2M386.5 528v2M387.5 525v3M388.5 523v2M389.5 521v2M390.5 522v1M391.5 523v2M392.5 525v1M393.5 526v1M394.5 525v1M395.5 523v2M396.5 522v1M397.5 521v1M398.5 520v1M399.5 520v1M400.5 519v1M401.5 519v1M402.5 519v1M403.5 518v1M404.5 518v1M405.5 518v2M406.5 520v2M407.5 522v3M408.5 525v2M409.5 527v2M410.5 527v1M411.5 526v1M412.5 525v1M413.5 524v1M414.5 524v1M415.5 525v1M416.5 525v1M417.5 525v1M418.5 525v1M419.5 526v1M420.5 526v1M421.5 526v1M422.5 526v1M423.5 525v1M424.5 525v1M425.5 525v3M426.5 528v5M427.5 533v6M428.5 539v5M429.5 544v3M430.5 546v1M431.5 546v1M432.5 546v1M433.5 546v1M434.5 545v1M435.5 544v1M436.5 543v1M437.5 542v1M438.5 541v1M439.5 540v1M440.5 540v1M441.5 539v1M442.5 539v1M443.5 538v1M444.5 538v1M445.5 538v1M446.5 537v1M447.5 536v1M448.5 535v1M449.5 534v1M450.5 533v1M451.5 532v1M452.5 531v1M453.5 530v1M454.5 531v1M455.5 532v1M456.5 533v1M457.5 534v1M458.5 533v1M459.5 532v1M460.5 531v1M461.5 530v1M462.5 531v2M463.5 533v1M464.5 534v2M465.5 536v1M466.5 537v1M467.5 538v1M468.5 538v1M469.5 539v1M470.5 539v1M471.5 538v1M472.5 538v1M473.5 538v1M474.5 537v1M475.5 536v1M476.5 535v1M477.5 534v1M478.5 533v1M479.5 533v1M480.5 532v1M481.5 532v4M482.5 536v7M483.5 543v6M484.5 549v7M485.5 556v4M486.5 557v2M487.5 555v2M488.5 553v2M489.5 551v2M490.5 552v1M491.5 553v1M492.5 553v1M493.5 554v1M494.5 553v1M495.5 553v1M496.5 552v1M497.5 552v1M498.5 550v2M499.5 548v2M500.5 546v2M501.5 545v1M502.5 543v2M503.5 542v1M504.5 540v2M505.5 539v1M506.5 539v1M507.5 538v1M508.5 538v1M509.5 538v1M510.5 538v1M511.5 538v1M512.5 538v1M513.5 538v1M514.5 537v1M515.5 537v1M516.5 536v1M517.5 536v1M518.5 535v1M519.5 533v2M520.5 532v1M521.5 531v1M522.5 531v1M523.5 530v1M524.5 530v1M525.5 530v2M526.5 532v2M527.5 534v3M528.5 537v2M529.5 539v2M530.5 539v1M531.5 538v1M532.5 537v1M533.5 536v1M534.5 537v1M535.5 537v1M536.5 538v1M537.5 538v1M538.5 539v1M539.5 540v1M540.5 540v1M541.5 541v1M542.5 540v1M543.5 539v1M544.5 539v1M545.5 538v2M546.5 540v2M547.5 542v2M548.5 544v2M549.5 546v2M550.5 546v1M551.5 544v2M552.5 543v1M553.5 542v3M554.5 545v4M555.5 549v5M556.5 554v4M557.5 558v3M558.5 559v1M559.5 557v2M560.5 556v1M561.5 555v1M562.5 554v1M563.5 554v1M564.5 553v1M565.5 553v1M566.5 551v2M567.5 549v2M568.5 547v2M569.5 546v1M570.5 545v1M571.5 544v1M572.5 544v1M573.5 543v1M574.5 542v1M575.5 541v1M576.5 540v1M577.5 539v1M578.5 538v1M579.5 537v1M580.5 537v1M581.5 536v2M582.5 538v2M583.5 540v2M584.5 542v2M585.5 544v2M586.5 545v1M587.5 546v1M588.5 546v1M589.5 546v1M590.5 545v1M591.5 544v1M592.5 544v1M593.5 543v1M594.5 542v1M595.5 541v1M596.5 541v1M597.5 539v2M598.5 536v3M599.5 532v4M600.5 529v3M601.5 527v4M602.5 531v6M603.5 537v6M604.5 543v6M605.5 549v4M606.5 552v1M607.5 551v1M608.5 551v1M609.5 551v1M610.5 549v2M611.5 548v1M612.5 546v2M613.5 545v1M614.5 546v1M615.5 547v1M616.5 548v1M617.5 548v2M618.5 545v3M619.5 541v4M620.5 538v3M621.5 536v2M622.5 538v2M623.5 540v3M624.5 543v2M625.5 545v2M626.5 547v1M627.5 548v1M628.5 548v1M629.5 549v1M630.5 549v1M631.5 550v1M632.5 550v1M633.5 550v1M634.5 549v1M635.5 548v1M636.5 547v1M637.5 545v2M638.5 543v2M639.5 541v2M640.5 539v2M641.5 537v2M642.5 537v1M643.5 536v1M644.5 536v1M645.5 536v1M646.5 535v1M647.5 535v1M648.5 534v1M649.5 534v1M650.5 534v1M651.5 533v1M652.5 533v1M653.5 533v1M654.5 533v1M655.5 532v1M656.5 532v1M657.5 532v1M658.5 531v1M659.5 530v1M660.5 529v1M661.5 528v1M662.5 527v1M663.5 526v1M664.5 526v1M665.5 525v3M666.5 528v4M667.5 532v4M668.5 536v4M669.5 540v4M670.5 544v4M671.5 548v3M672.5 551v4M673.5 555v2M674.5 554v2M675.5 552v2M676.5 550v2M677.5 548v2M678.5 549v1M679.5 549v1M680.5 550v1M681.5 550v1M682.5 549v1M683.5 548v1M684.5 548v1M685.5 547v1M686.5 546v1M687.5 545v1M688.5 545v1M689.5 544v1M690.5 543v1M691.5 541v2M692.5 540v1M693.5 539v1M694.5 540v1M695.5 541v1M696.5 541v1M697.5 542v1M698.5 543v1M699.5 543v1M700.5 544v1M701.5 544v1M702.5 543v1M703.5 542v1M704.5 542v1M705.5 541v1M706.5 541v1M707.5 541v1M708.5 541v1M709.5 541v1M710.5 541v1M711.5 540v1M712.5 540v1M713.5 540v1M714.5 541v1M715.5 541v1M716.5 542v1M717.5 542v1M718.5 542v1M719.5 543v1M720.5 543v1M721.5 542v2M722.5 540v2M723.5 538v2M724.5 536v2M725.5 534v2M726.5 534v1M727.5 534v1M728.5 534v1M729.5 534v1M730.5 534v1M731.5 534v1M732.5 534v1M733.5 534v1M734.5 533v1M735.5 531v2M736.5 530v1M737.5 529v2M738.5 531v2M739.5 533v2M740.5 535v2M741.5 537v2M742.5 539v2M743.5 541v1M744.5 542v2M745.5 544v4M746.5 548v7M747.5 555v6M748.5 561v7M749.5 568v4M750.5 569v2M751.5 567v2M752.5 565v2M753.5 564v1M754.5 563v1M755.5 562v1M756.5 562v1M757.5 561v1M758.5 560v1M759.5 559v1M760.5 559v1M761.5 558v1M762.5 559v1M763.5 559v1M764.5 560v1M765.5 560v1M766.5 558v2M767.5 556v2M768.5 554v2M769.5 553v1M770.5 554v1M771.5 555v2M772.5 557v1M773.5 558v1M774.5 558v1M775.5 558v1M776.5 558v1M777.5 558v1M778.5 557v1M779.5 557v1M780.5 556v1M781.5 556v1M782.5 557v2M783.5 559v1M784.5 560v2M785.5 562v2M786.5 564v4M787.5 568v4M788.5 572v4M789.5 576v3M790.5 578v1M791.5 579v1M792.5 579v1M793.5 579v1M794.5 580v2M795.5 582v2M796.5 584v2M797.5 586v1M798.5 585v1M799.5 585v1M800.5 584v1M801.5 584v1M802.5 585v1M803.5 586v1M804.5 586v1M805.5 586v2M806.5 583v3M807.5 581v2M808.5 578v3M809.5 576v2M810.5 577v1M811.5 578v1M812.5 579v1M813.5 580v1M814.5 580v1M815.5 581v1M816.5 581v1M817.5 581v1M818.5 580v1M819.5 580v1M820.5 579v1M821.5 579v1M822.5 578v1M823.5 578v1M824.5 577v1M825.5 577v1M826.5 577v1M827.5 578v1M828.5 578v1M829.5 578v1M830.5 577v1M831.5 577v1M832.5 576v1"/>
<text class="k" x="8.8" y="501" font-size="10" fill="#000" textLength="57.4" lengthAdjust="spacingAndGlyphs">RSI(14) 36.61</text>
<g shape-rendering="crispEdges" fill="#000">
<rect x="1040" y="489" width="4" height="1"/>
<rect x="1040" y="529" width="4" height="1"/>
<rect x="1040" y="585" width="4" height="1"/>
<rect x="1040" y="625" width="4" height="1"/>
</g>
<g class="k" font-size="10" fill="#000">
<text x="1045.7" y="497" textLength="26.3" lengthAdjust="spacingAndGlyphs">100.00</text>
<text x="1044.6" y="533" textLength="21.5" lengthAdjust="spacingAndGlyphs">70.00</text>
<text x="1044.6" y="589" textLength="21.5" lengthAdjust="spacingAndGlyphs">30.00</text>
<text x="1044.9" y="624" textLength="17.4" lengthAdjust="spacingAndGlyphs">0.00</text>
</g>
<g shape-rendering="crispEdges" fill="#000">
<rect x="5" y="627" width="1" height="4"/>
<rect x="69" y="627" width="1" height="4"/>
<rect x="133" y="627" width="1" height="4"/>
<rect x="197" y="627" width="1" height="4"/>
<rect x="261" y="627" width="1" height="4"/>
<rect x="325" y="627" width="1" height="4"/>
<rect x="389" y="627" width="1" height="4"/>
<rect x="453" y="627" width="1" height="4"/>
<rect x="517" y="627" width="1" height="4"/>
<rect x="581" y="627" width="1" height="4"/>
<rect x="645" y="627" width="1" height="4"/>
<rect x="709" y="627" width="1" height="4"/>
<rect x="773" y="627" width="1" height="4"/>
</g>
<g class="k" font-size="10" fill="#000">
<text x="5" y="639" textLength="46.1" lengthAdjust="spacingAndGlyphs">4 Sep 2025</text>
<text x="69" y="639" textLength="48.0" lengthAdjust="spacingAndGlyphs">9 Sep 08:00</text>
<text x="133" y="639" textLength="53.2" lengthAdjust="spacingAndGlyphs">12 Sep 00:00</text>
<text x="197" y="639" textLength="53.2" lengthAdjust="spacingAndGlyphs">16 Sep 16:00</text>
<text x="261" y="639" textLength="53.2" lengthAdjust="spacingAndGlyphs">19 Sep 08:00</text>
<text x="325" y="639" textLength="53.2" lengthAdjust="spacingAndGlyphs">24 Sep 00:00</text>
<text x="389" y="639" textLength="53.2" lengthAdjust="spacingAndGlyphs">26 Sep 16:00</text>
<text x="453" y="639" textLength="47.3" lengthAdjust="spacingAndGlyphs">1 Oct 08:00</text>
<text x="517" y="639" textLength="47.3" lengthAdjust="spacingAndGlyphs">6 Oct 00:00</text>
<text x="581" y="639" textLength="47.3" lengthAdjust="spacingAndGlyphs">8 Oct 16:00</text>
<text x="645" y="639" textLength="52.5" lengthAdjust="spacingAndGlyphs">13 Oct 08:00</text>
<text x="709" y="639" textLength="52.5" lengthAdjust="spacingAndGlyphs">16 Oct 00:00</text>
<text x="773" y="639" textLength="52.5" lengthAdjust="spacingAndGlyphs">20 Oct 16:00</text>
</g>
<text class="k" x="51.8" y="18" font-size="10" fill="#000" textLength="145.7" lengthAdjust="spacingAndGlyphs" xml:space="preserve">XAGUSD, H4:  Silver vs US Dollar</text>
<g fill="none" stroke-width="1">
<path d="M17.5 9.5H11.5a1 1 0 0 0-1 1v8a1 1 0 0 0 1 1H17.5" stroke="#d9362b"/>
<path d="M17.5 9.5H23.5a1 1 0 0 1 1 1v8a1 1 0 0 1-1 1H17.5" stroke="#0057a8"/>
<rect x="12" y="12" width="5" height="5" fill="#ffe4dc" stroke="none"/><rect x="18" y="12" width="5" height="5" fill="#cdeaff" stroke="none"/>
<path d="M12.3 11.5H16.7M12.3 14.5H16.7M12.3 17.5H16.7" stroke="#d9362b" stroke-linecap="round"/>
<path d="M18.3 11.5H22.7M18.3 14.5H22.7M18.3 17.5H22.7" stroke="#0057a8" stroke-linecap="round"/>
</g>
<path d="M32.5 9.5H33.8a1 1 0 0 1 1 1V13.5H36.5a1 1 0 0 1 1 1V18.5a1 1 0 0 1-1 1H32.5a1 1 0 0 1-1-1V10.5a1 1 0 0 1 1-1Z" fill="#ffe0d6" stroke="#d9362b" stroke-width="1.15"/>
<path d="M44.5 9.5H43.2a1 1 0 0 0-1 1V13.5H40.5a1 1 0 0 0-1 1V18.5a1 1 0 0 0 1 1H44.5a1 1 0 0 0 1-1V10.5a1 1 0 0 0-1-1Z" fill="#c5e6fc" stroke="#0057a8" stroke-width="1.15"/>
<rect x="36.5" y="9.5" width="4" height="2" rx="0.4" fill="#fff" stroke="#8e8e8e" stroke-width="1"/>
<g shape-rendering="crispEdges">
<rect x="7" y="25" width="191" height="58" fill="#fff"/>
<path d="M9 25H53V47H102V82H9Z" fill="url(#rg)"/>
<path d="M153 25H196V82H104V47H153Z" fill="url(#rg)"/>
<path d="M9.5 25.5H52.500V47.500H101.500V81.500H9.500Z" fill="none" stroke="#c00000" stroke-opacity="0.75" stroke-width="1"/>
<path d="M152.500 25.500H195.500V81.500H104.500V47.500H152.500Z" fill="none" stroke="#c00000" stroke-opacity="0.75" stroke-width="1"/>
<rect x="13" y="46" width="36" height="1" fill="#a80000"/><rect x="13" y="47" width="36" height="1" fill="#ff8a8a"/>
<rect x="156" y="46" width="36" height="1" fill="#a80000"/><rect x="156" y="47" width="36" height="1" fill="#ff8a8a"/>
<rect x="55" y="25" width="95" height="20" fill="#fafafa"/>
<rect x="55.500" y="25.500" width="94" height="19" fill="none" stroke="#c8c8c8"/>
<rect x="74" y="25" width="57" height="20" fill="#ffffff"/>
<rect x="74.500" y="25.500" width="56" height="19" fill="none" stroke="#aab0bb"/>
</g>
<path d="M61.500 33H67.500L64.500 36.500Z" fill="#111"/>
<path d="M137 36H143L140 32.500Z" fill="#111"/>
<text x="105" y="39" font-size="12" fill="#14294a" textLength="21.4" lengthAdjust="spacingAndGlyphs">0.25</text>
<text x="17.9" y="40" font-size="12.3" fill="#fff" stroke="#fff" stroke-width="0.25" textLength="23.800" lengthAdjust="spacingAndGlyphs">SELL</text>
<text x="162.300" y="40" font-size="12.3" fill="#fff" stroke="#fff" stroke-width="0.25" textLength="20.500" lengthAdjust="spacingAndGlyphs">BUY</text>
<g fill="#fff">
<text x="32" y="75.600" font-size="11.800" font-weight="bold" textLength="13.700" lengthAdjust="spacingAndGlyphs">48</text>
<text x="48.900" y="76" font-size="31.5" textLength="29.600" lengthAdjust="spacingAndGlyphs">41</text>
<text x="85.600" y="62.700" font-size="11.800" font-weight="bold" textLength="6.800" lengthAdjust="spacingAndGlyphs">3</text>
<text x="126" y="75.600" font-size="11.800" font-weight="bold" textLength="14.200" lengthAdjust="spacingAndGlyphs">48</text>
<text x="143.900" y="76" font-size="31.5" textLength="33" lengthAdjust="spacingAndGlyphs">49</text>
<text x="181.300" y="62.700" font-size="11.800" font-weight="bold" textLength="6.500" lengthAdjust="spacingAndGlyphs">9</text>
</g>
</svg></body></html>
